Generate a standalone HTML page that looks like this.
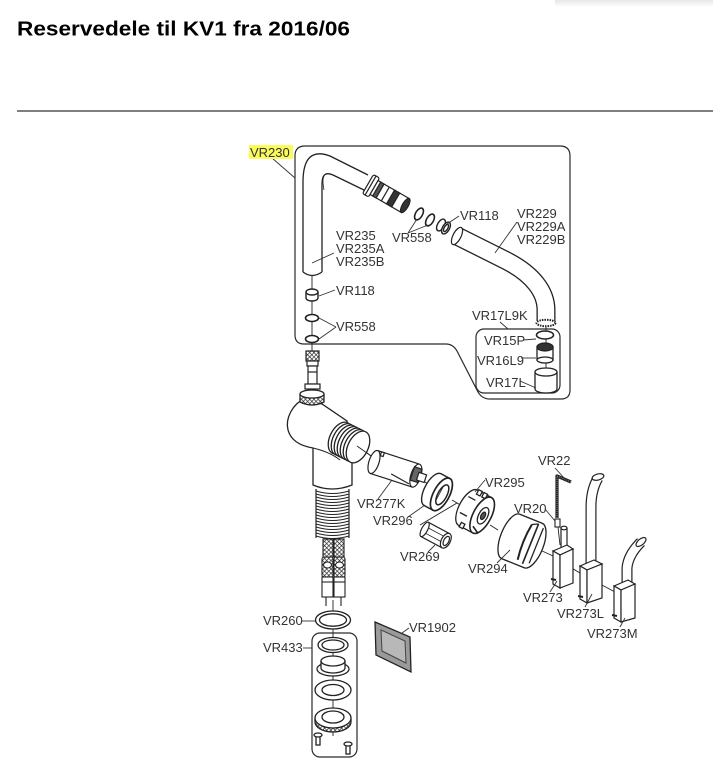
<!DOCTYPE html>
<html><head><meta charset="utf-8"><style>
html,body{margin:0;padding:0;background:#fff;}
svg{display:block}
text{font-family:"Liberation Sans",Arial,sans-serif;}
</style></head><body>
<svg width="713" height="776" viewBox="0 0 713 776" xmlns="http://www.w3.org/2000/svg">
<defs>
<pattern id="h" width="3" height="3" patternUnits="userSpaceOnUse" patternTransform="rotate(45)">
<rect width="3" height="3" fill="#fff"/>
<line x1="0" y1="0" x2="0" y2="3" stroke="#222" stroke-width="1.3"/>
<line x1="0" y1="0" x2="3" y2="0" stroke="#222" stroke-width="1.3"/>
</pattern>
<linearGradient id="sh" x1="0" y1="0" x2="0" y2="1"><stop offset="0" stop-color="#e6e6e6"/><stop offset="1" stop-color="#fff"/></linearGradient>
</defs>
<rect x="555" y="0" width="158" height="7" fill="url(#sh)"/>

<text x="17" y="35.5" font-size="20" font-weight="bold" fill="#000" textLength="333" lengthAdjust="spacingAndGlyphs">Reservedele til KV1 fra 2016/06</text>
<line x1="17" y1="111" x2="713" y2="111" stroke="#555" stroke-width="1.5"/>

<g fill="none" stroke="#2a2a2a" stroke-width="1.2">
<!-- VR230 group box -->
<path d="M305,146 L560,146 Q570,146 570,156 L570,390 Q570,399 561,399 L490,399 Q482,399 478,392 L457,351 Q453,344 446,344 L304,344 Q295,344 295,335 L295,156 Q295,146 305,146 Z"/>
<rect x="476" y="329" width="84" height="64" rx="8"/>
<rect x="312" y="633" width="45" height="124" rx="8"/>
</g>

<!-- center lines -->
<g stroke="#222" stroke-width="0.9" fill="none">
<line x1="312" y1="276" x2="312" y2="352"/>
<line x1="546" y1="325" x2="546" y2="392"/>
<line x1="333" y1="600" x2="333" y2="736"/>
<line x1="357" y1="446" x2="374" y2="458"/>
<line x1="418" y1="477" x2="432" y2="487"/>
<line x1="452" y1="500" x2="462" y2="506"/>
<line x1="420" y1="525" x2="457" y2="503"/>
<line x1="490" y1="525" x2="498" y2="530"/>
<line x1="540" y1="550" x2="553" y2="556"/>
<line x1="570" y1="567" x2="580" y2="573"/>
<line x1="600" y1="584" x2="615" y2="592"/>
<line x1="558" y1="527" x2="560" y2="545"/>
</g>

<!-- Spout VR235 -->
<g fill="none" stroke="#222" stroke-width="1.3">
<path d="M303,272 L303,182 Q303,146 330,156 L368,175"/>
<path d="M322,272 L322,184 Q322,170 333,175 L366,191"/>
<path d="M303,272 Q312,279 322,272"/>
<path d="M324,176 Q322,180 324,190" stroke-width="0.8"/>
</g>
<!-- connector in spout -->
<g transform="translate(368,184) rotate(30)" stroke="#222" stroke-width="1.2" fill="#fff">
<rect x="0" y="-11" width="7" height="22" rx="2"/>
<line x1="3" y1="-11" x2="3" y2="11"/>
<rect x="7" y="-8" width="36" height="16"/>
<rect x="10" y="-8" width="4" height="16" fill="#555"/>
<rect x="26" y="-8" width="6" height="16" fill="#333"/>
<line x1="20" y1="-8" x2="20" y2="8"/>
<ellipse cx="43" cy="0" rx="3" ry="8" fill="#333"/>
</g>
<!-- O-rings top -->
<g fill="none" stroke="#222" stroke-width="1.6">
<ellipse cx="419" cy="214" rx="3.5" ry="6.5" transform="rotate(30 419 214)"/>
<ellipse cx="430" cy="220" rx="3.5" ry="6.5" transform="rotate(30 430 220)"/>
</g>
<g stroke="#222" stroke-width="1.4" fill="#fff">
<ellipse cx="441" cy="225" rx="3.5" ry="6.5" transform="rotate(30 441 225)"/>
<ellipse cx="446" cy="228" rx="3.5" ry="6.5" transform="rotate(30 446 228)"/>
<ellipse cx="446" cy="228" rx="1.8" ry="4" transform="rotate(30 446 228)"/>
</g>

<!-- VR229 tube -->
<path d="M457,236 L505,260 C533,274 546,292 546,310 L546,321" stroke="#222" stroke-width="19" fill="none"/>
<path d="M457,236 L505,260 C533,274 546,292 546,310 L546,321" stroke="#fff" stroke-width="16.4" fill="none"/>
<ellipse cx="457" cy="236" rx="4" ry="9.5" transform="rotate(27 457 236)" fill="#fff" stroke="#222" stroke-width="1.2"/>
<ellipse cx="546" cy="323" rx="9.5" ry="3.2" fill="#fff" stroke="#222" stroke-width="2" stroke-dasharray="1.5 1"/>

<!-- inner group parts -->
<g stroke="#222" stroke-width="1.3" fill="#fff">
<ellipse cx="545" cy="335" rx="8.5" ry="4" stroke-width="1.6"/>
<rect x="537" y="347" width="16" height="13"/>
<ellipse cx="545" cy="360" rx="8" ry="3"/>
<ellipse cx="545" cy="347" rx="8" ry="4" fill="#333"/>
<path d="M535,372 L535,389 A11,4 0 0 0 557,389 L557,372"/>
<ellipse cx="546" cy="372" rx="11" ry="4"/>
</g>

<!-- left rings -->
<g stroke="#222" stroke-width="1.4" fill="#fff">
<path d="M306,292 L306,298 A6,3 0 0 0 318,298 L318,292"/>
<ellipse cx="312" cy="292" rx="6" ry="3"/>
<ellipse cx="312" cy="318" rx="6.5" ry="3.5" stroke-width="1.6"/>
<ellipse cx="312" cy="339" rx="6.5" ry="3.5" stroke-width="1.6"/>
</g>

<!-- stem below box -->
<g stroke="#222" stroke-width="1.2" fill="#fff">
<rect x="306" y="351" width="13" height="10" fill="url(#h)"/>
<rect x="307" y="361" width="11" height="5"/>
<rect x="308" y="366" width="9" height="18"/>
<line x1="308" y1="372" x2="317" y2="372"/>
<rect x="305" y="384" width="15" height="5"/>
</g>

<!-- faucet body -->
<g stroke="#222" stroke-width="1.3" fill="#fff">
<path d="M304,399 C293,404 285,418 288,430 C291,441 301,446 313,448 L313,485 Q332,493 352,485 L352,462 L347,421 L322,404 Z"/>
<path d="M313,448 Q330,452 340,460" fill="none" stroke-width="0.9"/>
<path d="M300,394 L300,402 Q312,408 324,402 L324,394" fill="url(#h)"/>
<ellipse cx="312" cy="394" rx="12" ry="4"/>
<ellipse cx="340" cy="438" rx="10" ry="17" transform="rotate(27 340 438)"/>
<ellipse cx="343" cy="439.5" rx="10" ry="17" transform="rotate(27 343 439.5)"/>
<ellipse cx="346" cy="441" rx="10" ry="17" transform="rotate(27 346 441)"/>
<ellipse cx="349" cy="442.5" rx="10" ry="17" transform="rotate(27 349 442.5)"/>
<ellipse cx="352" cy="444" rx="10" ry="17" transform="rotate(27 352 444)"/>
<ellipse cx="355" cy="445.5" rx="10" ry="17" transform="rotate(27 355 445.5)"/>
<ellipse cx="358" cy="447" rx="10" ry="17" transform="rotate(27 358 447)"/>
<line x1="357" y1="446" x2="374" y2="458" stroke-width="0.9"/>
</g>
<!-- corrugated -->
<g stroke="#222" stroke-width="1" fill="none">
<path d="M316,489 L316,538 M349,489 L349,538" stroke-width="1.2"/>
<path d="M316,491 Q332.5,496 349,491 M316,494 Q332.5,499 349,494 M316,497 Q332.5,502 349,497 M316,500 Q332.5,505 349,500 M316,503 Q332.5,508 349,503 M316,506 Q332.5,511 349,506 M316,509 Q332.5,514 349,509 M316,512 Q332.5,517 349,512 M316,515 Q332.5,520 349,515 M316,518 Q332.5,523 349,518 M316,521 Q332.5,526 349,521 M316,524 Q332.5,529 349,524 M316,527 Q332.5,532 349,527 M316,530 Q332.5,535 349,530 M316,533 Q332.5,538 349,533 M316,536 Q332.5,541 349,536"/>
</g>
<!-- hoses -->
<g stroke="#222" stroke-width="1.1">
<rect x="323" y="539" width="10" height="18" fill="url(#h)"/>
<rect x="334" y="539" width="10" height="18" fill="url(#h)"/>
<rect x="322" y="557" width="11" height="20" fill="url(#h)" rx="2"/>
<rect x="334" y="557" width="11" height="20" fill="url(#h)" rx="2"/>
<ellipse cx="327.5" cy="565" rx="4" ry="3" fill="#fff"/>
<ellipse cx="339.5" cy="565" rx="4" ry="3" fill="#fff"/>
<rect x="322" y="577" width="11" height="20" fill="#fff"/>
<rect x="334" y="577" width="11" height="20" fill="#fff"/>
<line x1="322" y1="582" x2="333" y2="582"/><line x1="334" y1="582" x2="345" y2="582"/>
<line x1="326" y1="597" x2="326" y2="606"/>
<line x1="341" y1="597" x2="341" y2="606"/>
</g>

<!-- VR260 / VR433 stack -->
<g stroke="#222" stroke-width="1.3" fill="#fff">
<ellipse cx="333" cy="620" rx="17.5" ry="9"/>
<ellipse cx="333" cy="620" rx="13.5" ry="6.2"/>
<ellipse cx="333" cy="645" rx="15" ry="7.5"/>
<ellipse cx="333" cy="645" rx="11" ry="5"/>
<ellipse cx="333" cy="669" rx="16" ry="7"/>
<path d="M321,661 L321,668 A12,5 0 0 0 345,668 L345,661"/>
<ellipse cx="333" cy="661" rx="12" ry="5"/>
<ellipse cx="333" cy="690" rx="18" ry="10"/>
<ellipse cx="333" cy="690" rx="11" ry="5.5"/>
<path d="M315,718 L315,722 A18,10 0 0 0 351,722 L351,718" fill="url(#h)"/>
<ellipse cx="333" cy="718" rx="18" ry="10"/>
<ellipse cx="333" cy="717" rx="11" ry="6"/>
<rect x="316" y="735" width="4" height="10"/>
<ellipse cx="318" cy="735" rx="4" ry="2"/>
<rect x="346" y="744" width="4" height="10"/>
<ellipse cx="348" cy="744" rx="4" ry="2"/>
</g>

<!-- VR1902 -->
<polygon points="375,622 410,637 411,672 376,655" fill="#9a9a9a" stroke="#222" stroke-width="1.3"/>
<polygon points="381,630 405,641 406,663 382,651" fill="#b8b8b8" stroke="#444" stroke-width="1"/>

<!-- VR277K cartridge -->
<g transform="translate(374,462) rotate(18)" stroke="#222" stroke-width="1.2" fill="#fff">
<rect x="0" y="-12" width="44" height="24" stroke="none"/>
<line x1="0" y1="-12" x2="44" y2="-12"/>
<line x1="0" y1="12" x2="44" y2="12"/>
<ellipse cx="0" cy="0" rx="5" ry="12"/>
<rect x="4" y="-12" width="3" height="4" />
<ellipse cx="44" cy="0" rx="5" ry="12"/>
<path d="M40,-8 L48,-8 L48,6 L40,6 Z" fill="#666"/>
<rect x="46" y="-4" width="8" height="8"/>
<line x1="20" y1="6" x2="40" y2="10"/>
</g>
<!-- VR296 -->
<g transform="translate(437,492) rotate(28)" stroke="#222" stroke-width="1.4" fill="#fff">
<ellipse cx="-5" cy="0" rx="8" ry="18"/>
<rect x="-5" y="-18" width="10" height="36" stroke="none"/>
<line x1="-5" y1="-18" x2="5" y2="-18"/>
<line x1="-5" y1="18" x2="5" y2="18"/>
<ellipse cx="5" cy="0" rx="8" ry="18" stroke-width="1.7"/>
<ellipse cx="6" cy="0" rx="4.5" ry="11" stroke-width="1.5"/>
<line x1="3" y1="-8" x2="3" y2="8" stroke-width="0.8"/>
</g>
<!-- VR269 -->
<g transform="translate(437,536) rotate(28)" stroke="#222" stroke-width="1.2" fill="#fff">
<rect x="-14" y="-8" width="24" height="16"/>
<line x1="-14" y1="-3" x2="10" y2="-3" stroke-width="0.8"/>
<line x1="-14" y1="3" x2="10" y2="3" stroke-width="0.8"/>
<ellipse cx="-14" cy="0" rx="3" ry="8"/>
<ellipse cx="10" cy="0" rx="4.5" ry="8"/>
<ellipse cx="10.5" cy="0" rx="2.5" ry="5"/>
</g>
<!-- VR295 -->
<g transform="translate(476,512) rotate(28)" stroke="#222" stroke-width="1.3" fill="#fff">
<ellipse cx="-9" cy="0" rx="9" ry="20"/>
<rect x="-9" y="-20" width="16" height="40" stroke="none"/>
<line x1="-9" y1="-20" x2="7" y2="-20"/>
<line x1="-9" y1="20" x2="7" y2="20"/>
<rect x="-8" y="-21" width="4" height="5" fill="#fff"/>
<rect x="-2" y="-21" width="4" height="5" fill="#fff"/>
<rect x="-8" y="16" width="4" height="5" fill="#fff"/>
<line x1="-14" y1="-10" x2="-6" y2="-10"/>
<line x1="-14" y1="8" x2="-6" y2="8"/>
<ellipse cx="7" cy="0" rx="9" ry="20" stroke-width="1.6"/>
<ellipse cx="8" cy="0" rx="4.5" ry="9"/>
<ellipse cx="8" cy="0" rx="2" ry="4" fill="#555"/>
<path d="M4,14 L12,18" stroke-width="1.6"/>
</g>
<!-- VR294 -->
<g transform="translate(522,541) rotate(22)" stroke="#222" stroke-width="1.3" fill="#fff">
<path d="M-12,-24 L12,-24 A10,24 0 0 1 12,24 L-12,24 A10,24 0 0 1 -12,-24 Z"/>
<path d="M3,-19 Q0,0 3,19" fill="none" stroke-width="2"/>
<path d="M9,-22 L9,21" fill="none" stroke-width="1.6"/>
<path d="M15,-20 L15,18" fill="none"/>
<path d="M3,-19 L9,-22" fill="none"/>
</g>

<!-- VR22 allen key & VR20 -->
<path d="M557,518 L557,476 L571,482" fill="none" stroke="#222" stroke-width="3.2" stroke-linejoin="round"/>
<path d="M557,518 L557,476 L571,482" fill="none" stroke="#888" stroke-width="1" stroke-dasharray="1 1"/>
<rect x="555" y="519" width="5" height="8" fill="#fff" stroke="#222" stroke-width="1.1"/>

<!-- VR273 -->
<g stroke="#222" stroke-width="1.2" fill="#fff">
<path d="M561,528 L561,549 L567,549 L567,528"/>
<ellipse cx="564" cy="528" rx="3" ry="1.8"/>
<polygon points="553,551 567,545 573,549 560,555"/>
<polygon points="553,551 560,555 560,588 553,584"/>
<polygon points="560,555 573,549 573,583 560,588"/>
<path d="M551,579 L556,580" stroke-width="2"/>
</g>
<!-- VR273L -->
<path d="M591,565 L591,507 Q591,490 598,478" fill="none" stroke="#222" stroke-width="11"/>
<path d="M591,565 L591,507 Q591,490 598,478" fill="none" stroke="#fff" stroke-width="8.6"/>
<ellipse cx="598" cy="477" rx="6" ry="3" transform="rotate(-15 598 477)" fill="#fff" stroke="#222" stroke-width="1.2"/>
<g stroke="#222" stroke-width="1.2" fill="#fff">
<polygon points="580,566 594,560 602,564 587,570"/>
<polygon points="580,566 587,570 587,603 580,599"/>
<polygon points="587,570 602,564 602,598 587,603"/>
<path d="M578,596 L583,597" stroke-width="2"/>
</g>
<!-- VR273M -->
<path d="M627,585 L627,568 Q628,555 641,542" fill="none" stroke="#222" stroke-width="11"/>
<path d="M627,585 L627,568 Q628,555 641,542" fill="none" stroke="#fff" stroke-width="8.6"/>
<ellipse cx="641" cy="542" rx="6" ry="3" transform="rotate(-40 641 542)" fill="#fff" stroke="#222" stroke-width="1.2"/>
<g stroke="#222" stroke-width="1.2" fill="#fff">
<polygon points="614,586 628,580 635,584 621,590"/>
<polygon points="614,586 621,590 621,622 614,618"/>
<polygon points="621,590 635,584 635,618 621,622"/>
<path d="M612,615 L617,616" stroke-width="2"/>
</g>

<!-- leader lines -->
<g stroke="#333" stroke-width="0.9" fill="none">
<path d="M272,158 L295,178"/>
<path d="M334,253 L312,263"/>
<path d="M335,290 L319,296"/>
<path d="M336,327 L319,318 M336,327 L319,339"/>
<path d="M408,233 L417,219 M408,233 L428,225"/>
<path d="M459,216 L447,224"/>
<path d="M517,222 L495,253"/>
<path d="M500,322 L508,329"/>
<path d="M523,340 L536,339"/>
<path d="M521,358 L536,358"/>
<path d="M520,381 L536,388"/>
<path d="M378,499 L392,480"/>
<path d="M408,517 L425,505"/>
<path d="M428,552 L435,545"/>
<path d="M485,480 L475,492"/>
<path d="M497,563 L510,550"/>
<path d="M545,509 L555,521"/>
<path d="M555,468 L566,480"/>
<path d="M550,592 L557,581"/>
<path d="M585,607 L592,594"/>
<path d="M620,627 L625,618"/>
<path d="M302,621 L315,621"/>
<path d="M303,648 L312,648"/>
<path d="M409,628 L402,633"/>
</g>

<!-- labels -->
<rect x="249" y="145" width="44" height="14" fill="#fbfb5c"/>
<g font-size="13" fill="#333">
<text x="250" y="157">VR230</text>
<text x="460" y="220">VR118</text>
<text x="392" y="242">VR558</text>
<text x="517" y="218">VR229</text>
<text x="517" y="231">VR229A</text>
<text x="517" y="244">VR229B</text>
<text x="336" y="240">VR235</text>
<text x="336" y="253">VR235A</text>
<text x="336" y="266">VR235B</text>
<text x="336" y="295">VR118</text>
<text x="336" y="331">VR558</text>
<text x="472" y="320">VR17L9K</text>
<text x="484" y="345">VR15P</text>
<text x="477" y="365">VR16L9</text>
<text x="486" y="387">VR17L</text>
<text x="357" y="508">VR277K</text>
<text x="373" y="525">VR296</text>
<text x="400" y="561">VR269</text>
<text x="485" y="487">VR295</text>
<text x="468" y="573">VR294</text>
<text x="514" y="513">VR20</text>
<text x="538" y="465">VR22</text>
<text x="523" y="602">VR273</text>
<text x="557" y="618">VR273L</text>
<text x="587" y="638">VR273M</text>
<text x="263" y="625">VR260</text>
<text x="263" y="652">VR433</text>
<text x="409" y="632">VR1902</text>
</g>
</svg>
</body></html>
